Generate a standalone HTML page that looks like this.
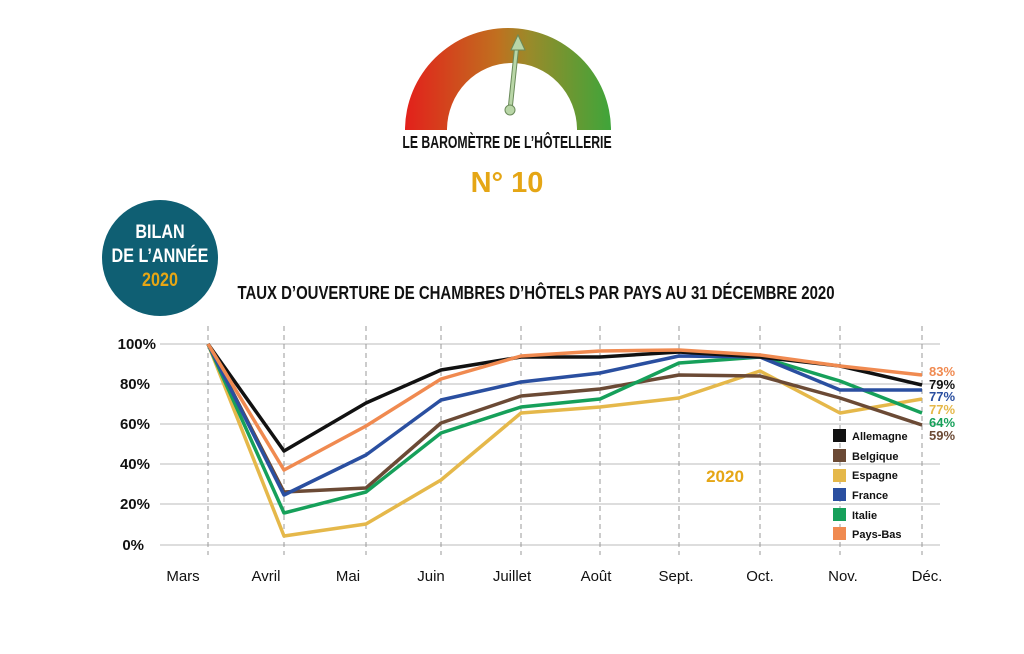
<!DOCTYPE html>
<html><head><meta charset="utf-8"><style>
body{margin:0;background:#fff;}
svg text{font-family:"Liberation Sans",sans-serif;}
.b{font-weight:bold;}
</style></head><body>
<svg width="1024" height="649" viewBox="0 0 1024 649" xmlns="http://www.w3.org/2000/svg">
<defs>
<linearGradient id="g" x1="0" x2="1" y1="0" y2="0">
<stop offset="0" stop-color="#e3201b"/><stop offset="0.45" stop-color="#c0701f"/><stop offset="0.6" stop-color="#9a8a2a"/><stop offset="1" stop-color="#3fa53a"/>
</linearGradient>
</defs>
<path d="M405,130 A103,102 0 0 1 611,130 L577,130 A65,67 0 0 0 447,130 Z" fill="url(#g)"/>
<line x1="510" y1="110" x2="517" y2="44" stroke="#6a8a5a" stroke-width="5"/>
<line x1="510" y1="110" x2="517" y2="44" stroke="#b9d6a7" stroke-width="3"/>
<polygon points="518,35 511,50 525,50" fill="#b9d6a7" stroke="#6a8a5a" stroke-width="1"/>
<circle cx="510" cy="110" r="5" fill="#b9d6a7" stroke="#6a8a5a"/>
<text class="b" x="507" y="148" font-size="18" text-anchor="middle" fill="#111" transform="translate(507,0) scale(0.68,1) translate(-507,0)">LE BAROMÈTRE DE L’HÔTELLERIE</text>
<text class="b" x="507" y="192" font-size="29" text-anchor="middle" fill="#e5a615">N° 10</text>
<circle cx="160" cy="258" r="58" fill="#0f5f73"/>
<g transform="translate(160,0) scale(0.85,1) translate(-160,0)">
<text class="b" x="160" y="238" font-size="19" text-anchor="middle" fill="#fff">BILAN</text>
<text class="b" x="160" y="262" font-size="19" text-anchor="middle" fill="#fff">DE L’ANNÉE</text>
<text class="b" x="160" y="286" font-size="19" text-anchor="middle" fill="#e5a615">2020</text>
</g>
<text class="b" x="536" y="299" font-size="18" text-anchor="middle" fill="#111" transform="translate(536,0) scale(0.83,1) translate(-536,0)">TAUX D’OUVERTURE DE CHAMBRES D’HÔTELS PAR PAYS AU 31 DÉCEMBRE 2020</text>
<g stroke="#bbb" stroke-width="1">
<line x1="160" y1="344" x2="940" y2="344"/><line x1="160" y1="384" x2="940" y2="384"/><line x1="160" y1="424" x2="940" y2="424"/><line x1="160" y1="464" x2="940" y2="464"/><line x1="160" y1="504" x2="940" y2="504"/><line x1="160" y1="545" x2="940" y2="545"/>
</g>
<g stroke="#999" stroke-width="1" stroke-dasharray="5,4">
<line x1="208" y1="326" x2="208" y2="555"/><line x1="284" y1="326" x2="284" y2="555"/><line x1="366" y1="326" x2="366" y2="555"/><line x1="441" y1="326" x2="441" y2="555"/><line x1="521" y1="326" x2="521" y2="555"/><line x1="600" y1="326" x2="600" y2="555"/><line x1="679" y1="326" x2="679" y2="555"/><line x1="760" y1="326" x2="760" y2="555"/><line x1="840" y1="326" x2="840" y2="555"/><line x1="922" y1="326" x2="922" y2="555"/>
</g>
<g font-size="15" font-weight="bold" fill="#111" text-anchor="end">
<text x="156" y="349">100%</text><text x="150" y="389">80%</text><text x="150" y="429">60%</text><text x="150" y="469">40%</text><text x="150" y="509">20%</text><text x="144" y="550">0%</text>
</g>
<g font-size="15" fill="#111" text-anchor="middle">
<text x="183" y="581">Mars</text><text x="266" y="581">Avril</text><text x="348" y="581">Mai</text><text x="431" y="581">Juin</text><text x="512" y="581">Juillet</text><text x="596" y="581">Août</text><text x="676" y="581">Sept.</text><text x="760" y="581">Oct.</text><text x="843" y="581">Nov.</text><text x="927" y="581">Déc.</text>
</g>
<g fill="none" stroke-width="3.5" stroke-linejoin="round">
<polyline stroke="#e5b84a" points="208,344 284,536 366,524 441,480 521,413 600,407 679,398 760,371 840,413 922,399"/>
<polyline stroke="#6b4a35" points="208,344 284,492 366,488 441,423 521,396 600,389 679,375 760,376 840,398 922,425"/>
<polyline stroke="#16a05a" points="208,344 284,513 366,492 441,433 521,407 600,399 679,363 760,357 840,381 922,413"/>
<polyline stroke="#2a4fa0" points="208,344 284,495 366,455 441,400 521,382 600,373 679,356 760,357 840,390 922,390"/>
<polyline stroke="#111" points="208,344 284,451 366,403 441,370 521,357 600,357 679,352 760,357 840,366 922,385"/>
<polyline stroke="#f08a50" points="208,344 284,470 366,426 441,379 521,356 600,351 679,350 760,355 840,366 922,375"/>
</g>
<g font-size="13" font-weight="bold">
<text x="929" y="376" fill="#f08a50">83%</text>
<text x="929" y="389" fill="#111">79%</text>
<text x="929" y="401" fill="#2a4fa0">77%</text>
<text x="929" y="414" fill="#e5b84a">77%</text>
<text x="929" y="427" fill="#16a05a">64%</text>
<text x="929" y="440" fill="#6b4a35">59%</text>
</g>
<text class="b" x="725" y="482" font-size="17" text-anchor="middle" fill="#e5a615">2020</text>
<g font-size="11" font-weight="bold" fill="#111">
<rect x="833" y="429" width="13" height="13" fill="#111"/><text x="852" y="440">Allemagne</text>
<rect x="833" y="449" width="13" height="13" fill="#6b4a35"/><text x="852" y="460">Belgique</text>
<rect x="833" y="469" width="13" height="13" fill="#e5b84a"/><text x="852" y="479">Espagne</text>
<rect x="833" y="488" width="13" height="13" fill="#2a4fa0"/><text x="852" y="499">France</text>
<rect x="833" y="508" width="13" height="13" fill="#16a05a"/><text x="852" y="519">Italie</text>
<rect x="833" y="527" width="13" height="13" fill="#f08a50"/><text x="852" y="538">Pays-Bas</text>
</g>
</svg>
</body></html>
